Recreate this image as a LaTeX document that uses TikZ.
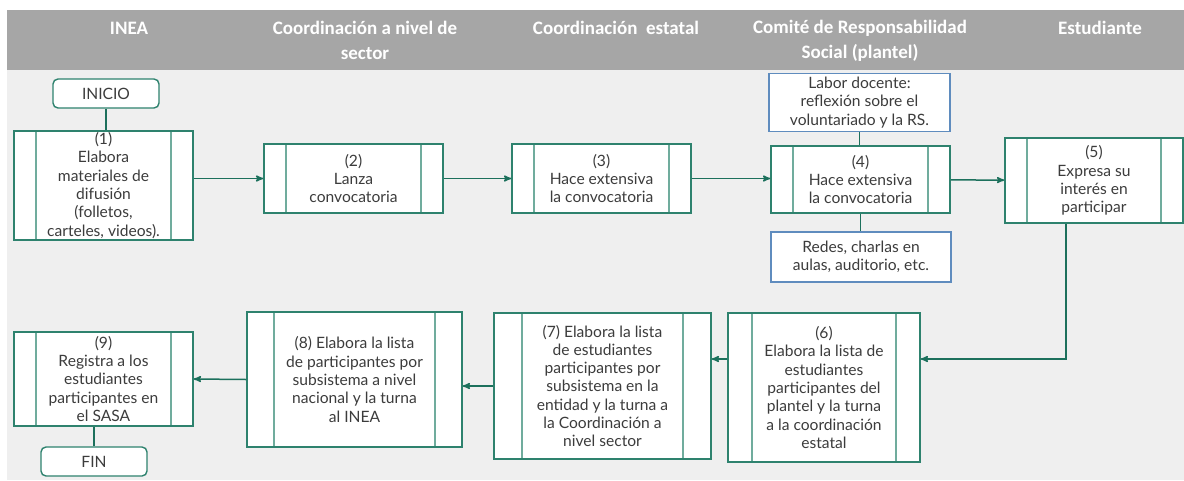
\documentclass[tikz,border=0pt]{standalone}
\usepackage{fontspec}
\setmainfont{Lato}
\newfontfamily\headfont{Carlito}
\usetikzlibrary{positioning, arrows}
\definecolor{tealbox}{RGB}{46,130,110}
\definecolor{tealin}{RGB}{112,172,157}
\definecolor{tealarr}{RGB}{28,112,92}
\definecolor{bluebox}{RGB}{95,140,190}
\definecolor{headgray}{RGB}{166,166,166}
\definecolor{bodygray}{RGB}{239,239,239}
\definecolor{txtgray}{RGB}{60,60,60}
\tikzset{>=stealth',
  every node/.style={font=\fontsize{15.6}{18.3}\selectfont, text=txtgray, align=center},
  head/.style={font=\headfont\bfseries\fontsize{19}{25}\selectfont, text=white},
  proc/.style={draw=tealbox, line width=1.6pt, fill=white, inner sep=0pt,
    path picture={\draw[tealin, line width=2pt]
      ([xshift=#1]path picture bounding box.north west) -- ([xshift=#1]path picture bounding box.south west)
      ([xshift=-#1]path picture bounding box.north east) -- ([xshift=-#1]path picture bounding box.south east);}},
  proc/.default=22pt,
  term/.style={draw=tealbox, line width=1.4pt, fill=white, rounded corners=5pt,
    minimum width=106pt, minimum height=29pt},
  note/.style={draw=bluebox, line width=1.4pt, fill=white}}

\begin{document}
\begin{tikzpicture}[x=1pt, y=-1pt]
\useasboundingbox (0,0) rectangle (1184,480);
\fill[bodygray] (7,70) rectangle (1184,480);
\fill[headgray] (7,10) rectangle (1184,70);

% lanes
\node[head] (h1) at (129,28) {INEA};
\node[head] (h2) at (365,40.5) {Coordinación a nivel de\\sector};
\node[head] (h3) at (616,28) {Coordinación\ \ estatal};
\node[head] (h4) at (860,40.5) {Comité de Responsabilidad\\Social (plantel)};
\node[head] (h5) at (1100,28) {Estudiante};

% steps
\node[term] (ini) at (106,93.5) {INICIO};
\node[proc, minimum width=179pt, minimum height=109pt] (p1) at (103.5,185.5) {(1)\\Elabora\\materiales de\\difusión\\(folletos,\\carteles, videos).};
\node[proc, minimum width=179pt, minimum height=69pt] (p2) at (353.5,178.5) {(2)\\Lanza\\convocatoria};
\node[proc, minimum width=179pt, minimum height=69pt] (p3) at (601.5,178.5) {(3)\\Hace extensiva\\la convocatoria};
\node[proc, minimum width=179pt, minimum height=67pt] (p4) at (860.5,179.5) {(4)\\Hace extensiva\\la convocatoria};
\node[note, minimum width=181pt, minimum height=53pt] (lab) at (859.5,102.5) {Labor docente:\\reflexión sobre el\\voluntariado y la RS.};
\node[note, minimum width=180pt, minimum height=50pt] (red) at (861,257) {Redes, charlas en\\aulas, auditorio, etc.};
\node[proc, minimum width=178pt, minimum height=85pt] (p5) at (1094,180.5) {(5)\\Expresa su\\interés en\\participar};
\node[proc=24pt, minimum width=192pt, minimum height=149pt] (p6) at (824,387.5) {(6)\\Elabora la lista de\\estudiantes\\participantes del\\plantel y la turna\\a la coordinación\\estatal};
\node[proc=28pt, minimum width=217pt, minimum height=146pt] (p7) at (602.5,386) {(7) Elabora la lista\\de estudiantes\\participantes por\\subsistema en la\\entidad y la turna a\\la Coordinación a\\nivel sector};
\node[proc=27pt, minimum width=215pt, minimum height=135pt] (p8) at (354.5,379.5) {(8) Elabora la lista\\de participantes por\\subsistema a nivel\\nacional y la turna\\al INEA};
\node[proc, minimum width=179pt, minimum height=94pt] (p9) at (103.5,379) {(9)\\Registra a los\\estudiantes\\participantes en\\el SASA};
\node[term] (fin) at (94,461.5) {FIN};

\coordinate (turn) at (1066,359);

\draw[tealarr, line width=1.5pt]
(ini.south) edge (ini.south |- p1.north)
(p1.east |- p2.west) edge[->] (p2.west)
(p2.east) edge[->] (p2.east -| p3.west)
(p3.east) edge[->] (p3.east -| p4.west)
(p4) edge[->] (p5)
(lab.south) edge (lab.south |- p4.north)
(p4.south) edge (p4.south |- red.north)
(turn |- p5.south) edge[->, to path={|- (\tikztotarget)}] (turn -| p6.east)
(p6.west |- turn) edge[->] (p7.east |- turn)
(p7.west) edge[->] (p7.west -| p8.east)
(p8.west) edge[->] (p9.east)
(fin.north) edge (fin.north |- p9.south);

\end{tikzpicture}
\end{document}
